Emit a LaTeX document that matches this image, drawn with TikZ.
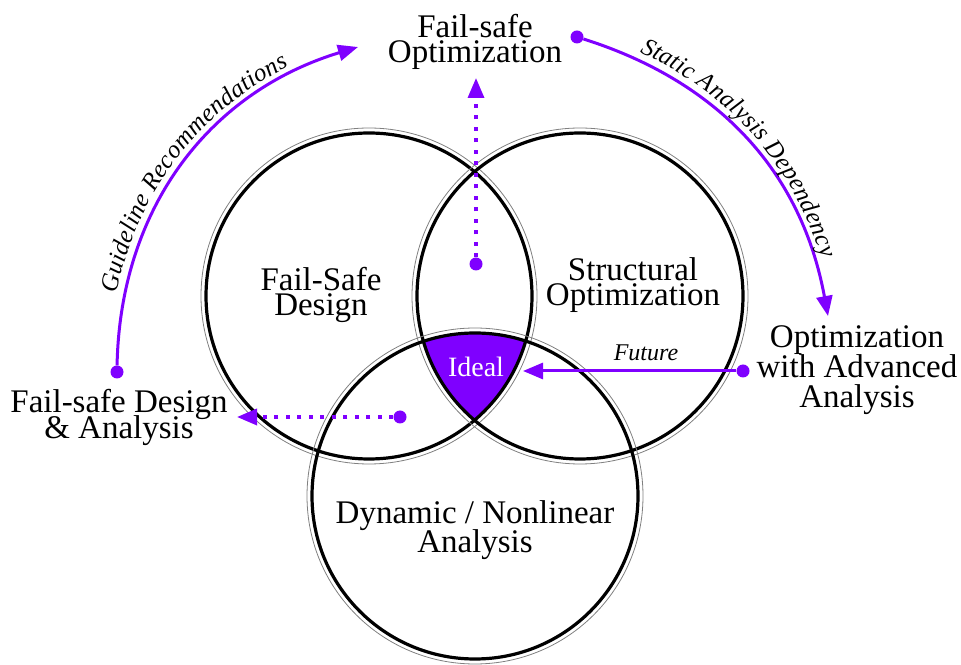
\documentclass[tikz,border=0pt]{standalone}
\usepackage{fontspec}
\setmainfont{Liberation Serif}
\usetikzlibrary{arrows.meta,decorations.text}
\definecolor{ideal}{RGB}{127,0,255}
\lineskiplimit=-100pt

\begin{document}
\begin{tikzpicture}[x=1pt,y=1pt,>={Triangle[length=20pt,width=16pt]},
ring/.style={draw=black,line width=3.2pt},
halo/.style={draw=gray,line width=0.8pt},
big text/.style={align=center,font=\fontsize{33}{25}\selectfont},
bullet/.style={circle,fill=ideal,inner sep=0pt,minimum size=13pt},
link/.style={->,draw=ideal,line width=3pt},
dotted link/.style={link,line width=3.4pt,dash pattern=on 4pt off 7.5pt},
arc text/.style={postaction={decorate,decoration={text along path,text align=center,raise=8pt,text color=black,text={|\itshape\fontsize{25}{25}\selectfont|#1}}}}]

\useasboundingbox (0,0) rectangle (961,664);

\coordinate (L) at (369,368);
\coordinate (R) at (580,368);
\coordinate (B) at (475,168);

\begin{scope}
\clip (L) circle[radius=163pt];
\clip (R) circle[radius=163pt];
\fill[ideal] (B) circle[radius=163pt];
\end{scope}

\foreach \c in {L,R,B}{
\draw[halo] (\c) circle[radius=168pt];
\draw[ring] (\c) circle[radius=163pt];
}

\node[big text] (fsopt) at (475,622) {Fail-safe\\Optimization};
\node[big text] (fsdes) at (321,369) {Fail-Safe\\Design};
\node[big text] (strop) at (633,379) {Structural\\Optimization};
\node[big text,font=\fontsize{33}{29}\selectfont] (dyn) at (475,134) {Dynamic / Nonlinear\\Analysis};
\node[big text,font=\fontsize{33}{30}\selectfont] (adv) at (857,294) {Optimization\\with Advanced\\Analysis};
\node[big text,font=\fontsize{33}{26}\selectfont] (fsda) at (119,247) {Fail-safe Design\\\& Analysis};
\node[text=white,font=\fontsize{28}{28}\selectfont,anchor=base] (ideal) at (476,287) {Ideal};
\node[font=\itshape\fontsize{24}{24}\selectfont,anchor=base] (future) at (646,303) {Future};

\node[bullet] (gdot) at (117,292) {};
\coordinate (gtip) at (358,617);
\node[bullet] (sdot) at (577,627) {};
\coordinate (stip) at (828,348);
\node[bullet] (vdot) at (476,400) {};
\coordinate (vtip) at (476,586);
\node[bullet] (hdot) at (400,247) {};
\coordinate (htip) at (237,247);
\node[bullet] (fdot) at (743,293) {};
\coordinate (ftip) at (523,293);

\draw[link,arc text=Guideline Recommendations] (gdot) to[bend left=36] (gtip);
\draw[link,arc text=Static Analysis Dependency] (sdot) to[bend left=31] (stip);
\draw[dotted link] (vdot) -- (vtip);
\draw[dotted link] (hdot) -- (htip);
\draw[link] (fdot) -- (ftip);
\end{tikzpicture}
\end{document}
